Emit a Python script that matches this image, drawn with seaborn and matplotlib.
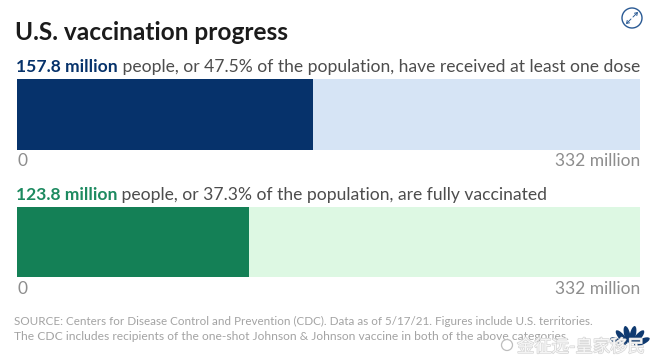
import matplotlib
matplotlib.use("Agg")
import matplotlib.pyplot as plt
import matplotlib.patheffects as pe
from matplotlib.patches import Circle, Ellipse
import numpy as np
import pandas as pd
import seaborn as sns

W, H = 651, 359
TOTAL = 332
MEASURES = ["At least one dose", "Fully vaccinated"]
VALUES = [157.8, 123.8]
HEAD_BOLD = ["157.8 million", "123.8 million"]
HEAD_REST = [" people, or 47.5% of the population, have received at least one dose",
             " people, or 37.3% of the population, are fully vaccinated"]
DARK = ["#06326b", "#148056"]
LIGHT = ["#d6e4f5", "#ddf8e3"]
BOXES = [(79, 150), (207, 277)]
TITLE = "U.S. vaccination progress"
SOURCE = ["SOURCE: Centers for Disease Control and Prevention (CDC). Data as of 5/17/21. Figures include U.S. territories.",
          "The CDC includes recipients of the one-shot Johnson & Johnson vaccine in both of the above categories."]
SOURCE_SIZE = [8.4, 8.65]
WATERMARK = "金征远-皇家移民"

sns.set_theme(style="white")
plt.rcParams["font.family"] = ["Lato", "Noto Sans CJK SC", "DejaVu Sans"]
fig = plt.figure(figsize=(W / 100, H / 100), dpi=100, facecolor="white")
L, R = 17, 640


def fx(x):
    return x / W


def fy(y):
    return 1 - y / H


for i, (m, v) in enumerate(zip(MEASURES, VALUES)):
    t, b = BOXES[i]
    ax = fig.add_axes([fx(L), fy(b), (R - L) / W, (b - t) / H])
    df = pd.DataFrame({"measure": [m], "total": [TOTAL], "value": [v]})
    sns.barplot(data=df, x="total", y="measure", color=LIGHT[i], width=1,
                saturation=1, linewidth=0, ax=ax)
    sns.barplot(data=df, x="value", y="measure", color=DARK[i], width=1,
                saturation=1, linewidth=0, ax=ax)
    ax.set_xlim(0, TOTAL)
    ax.set_ylim(0.5, -0.5)
    ax.set_xlabel("")
    ax.set_ylabel("")
    ax.set_yticks([])
    ax.set_xticks([0, TOTAL], ["0", "332 million"])
    ax.tick_params(axis="x", length=0, pad=2.5 + 0.7 * i, labelsize=12.5, labelcolor="#8d8d8d")
    labs = ax.get_xticklabels()
    labs[0].set_ha("left")
    labs[1].set_ha("right")
    sns.despine(ax=ax, left=True, bottom=True)

    y = t - 7
    tb = fig.text(fx(L - 1), fy(y), HEAD_BOLD[i], fontsize=12.6, fontweight="bold",
                  color=DARK[i] if i == 0 else "#1d8a60", va="baseline", ha="left")
    fig.canvas.draw()
    ext = tb.get_window_extent()
    fig.text(ext.x1 / W, fy(y), HEAD_REST[i], fontsize=12.6, color="#4d4d4d",
             va="baseline", ha="left")

fig.text(fx(15), fy(33), TITLE, fontsize=17.6, fontweight="bold", color="#1b1b1b",
         va="center", ha="left")
for s, y, fs in zip(SOURCE, (321, 336.5), SOURCE_SIZE):
    fig.text(fx(14.5), fy(y), s, fontsize=fs, color="#a3a3a3", va="center", ha="left")

# Page-level decorations in pixel coordinates
ov = fig.add_axes([0, 0, 1, 1], zorder=5)
ov.set_xlim(0, W)
ov.set_ylim(H, 0)
ov.axis("off")
ov.add_patch(Circle((632, 18), 10, fill=False, ec="#2a5a94", lw=1.0))
ov.annotate("", xy=(638, 12), xytext=(633, 17),
            arrowprops=dict(arrowstyle="->,head_width=0.1,head_length=0.15",
                            color="#2a5a94", lw=0.7, shrinkA=0, shrinkB=0))
ov.annotate("", xy=(626, 24), xytext=(631, 19),
            arrowprops=dict(arrowstyle="->,head_width=0.1,head_length=0.15",
                            color="#2a5a94", lw=0.7, shrinkA=0, shrinkB=0))
for ang in (-66, -40, -13, 13, 40, 66):
    a = np.radians(ang)
    ov.add_patch(Ellipse((630 + 13 * np.sin(a), 347 - 13 * np.cos(a)), 6, 17,
                         angle=ang, color="#0f3a70", lw=0))
ov.add_patch(Circle((507, 345), 5.5, fill=False, ec="#bdbdbd", lw=0.9))
ov.text(581, 347, WATERMARK, fontsize=12.5, color="#f7f7f7", ha="center", va="center",
        path_effects=[pe.withStroke(linewidth=1.0, foreground="#d5d5d5")])

fig.savefig("out.png", dpi=100)
